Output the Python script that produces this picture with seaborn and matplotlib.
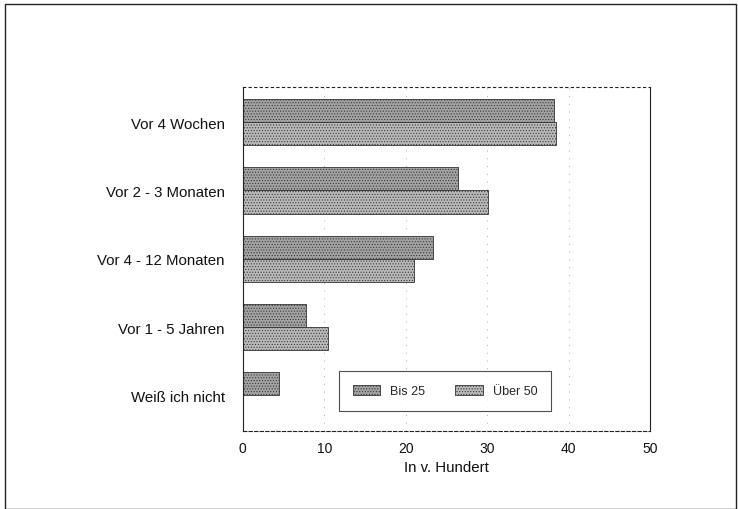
import numpy as np
import matplotlib
matplotlib.use("Agg")
import matplotlib.pyplot as plt
import seaborn as sns
import pandas as pd
from matplotlib.patches import Rectangle

categories = ["Vor 4 Wochen", "Vor 2 - 3 Monaten", "Vor 4 - 12 Monaten",
              "Vor 1 - 5 Jahren", "Weiß ich nicht"]
bis_25 = [38.2, 26.4, 23.4, 7.8, 4.5]
ueber_50 = [38.4, 30.1, 21.0, 10.5, np.nan]
series = ["Bis 25", "Über 50"]
xticks = [0, 10, 20, 30, 40, 50]

df = pd.DataFrame({
    "Kategorie": categories * 2,
    "Wert": bis_25 + ueber_50,
    "Gruppe": [series[0]] * len(categories) + [series[1]] * len(categories),
})

sns.set_theme(style="white")
plt.rcParams["font.family"] = ["Liberation Sans", "DejaVu Sans"]
plt.rcParams["hatch.color"] = "#505050"
plt.rcParams["hatch.linewidth"] = 0.45

fig = plt.figure(figsize=(7.38, 5.10), dpi=100)
ax = fig.add_axes([0.329, 0.153, 0.552, 0.674])

sns.barplot(data=df, x="Wert", y="Kategorie", hue="Gruppe", orient="h",
            palette=["#a2a2a2", "#b8b8b8"], width=0.68, ax=ax,
            edgecolor="#333333", linewidth=0.6, errorbar=None)

# dithered look of the scan
for patch in ax.patches:
    patch.set_hatch("......")

ax.set_xlim(0, 50)
ax.set_ylim(4.52, -0.51)
ax.set_xticks(xticks)
ax.set_xticklabels([str(t) for t in xticks], fontsize=10)
ax.tick_params(axis="y", labelsize=10.8, length=0, pad=13, labelcolor="#111111")
ax.tick_params(axis="x", length=0, pad=7, labelcolor="#111111")
ax.set_xlabel("In v. Hundert", fontsize=10.8, labelpad=4, color="#111111")
ax.set_ylabel("")
ax.xaxis.grid(True, linestyle=(0, (1, 7)), color="#aaaaaa", linewidth=0.7)
ax.set_axisbelow(True)
for side in ["left", "bottom", "right", "top"]:
    ax.spines[side].set_color("#222222")
    ax.spines[side].set_linewidth(0.8)
ax.spines["top"].set_linestyle((0, (2, 3)))
ax.spines["bottom"].set_linestyle((0, (3, 2)))

leg = ax.legend(loc="center", bbox_to_anchor=(0.496, 0.116), ncol=2,
                fontsize=9, frameon=True, fancybox=False, handlelength=2.2,
                handleheight=0.9, columnspacing=2.4, borderpad=1.1)
leg.get_frame().set_edgecolor("#222222")
leg.get_frame().set_linewidth(0.8)
for hdl in leg.legend_handles:
    hdl.set_hatch("......")

fig.patches.append(Rectangle((0.007, 0.0), 0.99, 0.99, transform=fig.transFigure,
                             fill=False, edgecolor="#222222", linewidth=1.0))

fig.savefig("out.png", dpi=100)
